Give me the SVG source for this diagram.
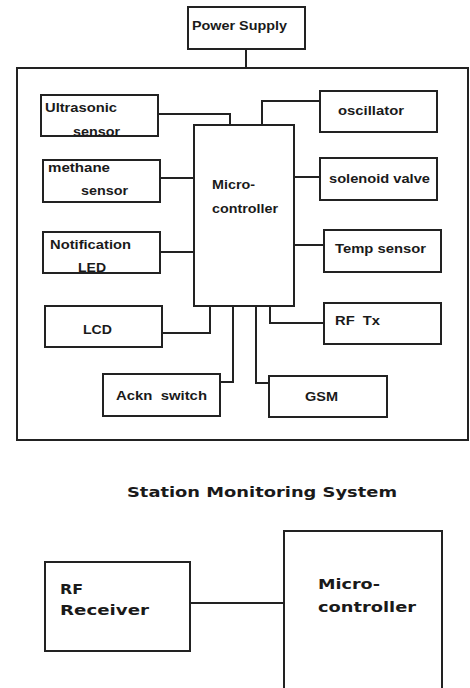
<svg xmlns="http://www.w3.org/2000/svg" width="470" height="688" viewBox="0 0 470 688">
<style>
.box{fill:#fff;stroke:#222;stroke-width:2}
.wire{fill:none;stroke:#222;stroke-width:2}
.t{font-family:"Liberation Sans",Arial,sans-serif;font-weight:bold;font-size:13px;fill:#1a1a1a}
.w{font-family:"DejaVu Sans","Liberation Sans",sans-serif;font-weight:bold;font-size:14px;fill:#1a1a1a}
</style>
<rect width="470" height="688" fill="#fff"/>
<g id="outer"><rect class="box" x="17" y="68" width="451" height="372"/></g>
<g id="connectors">
<path class="wire" d="M246 49V68"/>
<path class="wire" d="M158 114H230V125"/>
<path class="wire" d="M320 101H262V125"/>
<path class="wire" d="M160 178H194"/>
<path class="wire" d="M160 252H194"/>
<path class="wire" d="M294 177H320"/>
<path class="wire" d="M294 245H324"/>
<path class="wire" d="M270 306V323H324"/>
<path class="wire" d="M162 333H210V306"/>
<path class="wire" d="M220 382H233V306"/>
<path class="wire" d="M256 306V383H269"/>
<path class="wire" d="M190 603H284"/>
</g>
<g id="power"><rect class="box" x="188" y="7" width="117" height="42"/><text class="t" x="192" y="30" textLength="95" lengthAdjust="spacingAndGlyphs">Power Supply</text></g>
<g id="ultrasonic"><rect class="box" x="41" y="95" width="117" height="41"/><text class="t" x="45" y="112" textLength="72" lengthAdjust="spacingAndGlyphs">Ultrasonic</text><text class="t" x="73" y="136" textLength="47" lengthAdjust="spacingAndGlyphs">sensor</text></g>
<g id="oscillator"><rect class="box" x="320" y="91" width="117" height="41"/><text class="t" x="338" y="115" textLength="66" lengthAdjust="spacingAndGlyphs">oscillator</text></g>
<g id="mcu"><rect class="box" x="194" y="125" width="100" height="181"/><text class="t" x="212" y="189" textLength="43" lengthAdjust="spacingAndGlyphs">Micro-</text><text class="t" x="212" y="213" textLength="66" lengthAdjust="spacingAndGlyphs">controller</text></g>
<g id="methane"><rect class="box" x="43" y="160" width="117" height="42"/><text class="t" x="48" y="172" textLength="62" lengthAdjust="spacingAndGlyphs">methane</text><text class="t" x="81" y="195" textLength="47" lengthAdjust="spacingAndGlyphs">sensor</text></g>
<g id="solenoid"><rect class="box" x="320" y="158" width="117" height="42"/><text class="t" x="329" y="183" textLength="101" lengthAdjust="spacingAndGlyphs">solenoid valve</text></g>
<g id="notification"><rect class="box" x="43" y="232" width="117" height="41"/><text class="t" x="50" y="249" textLength="81" lengthAdjust="spacingAndGlyphs">Notification</text><text class="t" x="78" y="272" textLength="28" lengthAdjust="spacingAndGlyphs">LED</text></g>
<g id="temp"><rect class="box" x="324" y="230" width="117" height="42"/><text class="t" x="335" y="253" textLength="91" lengthAdjust="spacingAndGlyphs">Temp sensor</text></g>
<g id="rftx"><rect class="box" x="324" y="303" width="117" height="41"/><text class="t" x="335" y="325" textLength="45" lengthAdjust="spacingAndGlyphs" xml:space="preserve">RF  Tx</text></g>
<g id="lcd"><rect class="box" x="45" y="306" width="117" height="41"/><text class="t" x="83" y="334" textLength="29" lengthAdjust="spacingAndGlyphs">LCD</text></g>
<g id="ackn"><rect class="box" x="103" y="374" width="117" height="42"/><text class="t" x="116" y="400" textLength="91" lengthAdjust="spacingAndGlyphs" xml:space="preserve">Ackn  switch</text></g>
<g id="gsm"><rect class="box" x="269" y="376" width="118" height="41"/><text class="t" x="305" y="401" textLength="33" lengthAdjust="spacingAndGlyphs">GSM</text></g>
<g id="title"><text class="w" x="127" y="497" textLength="270" lengthAdjust="spacingAndGlyphs">Station Monitoring System</text></g>
<g id="rfrx"><rect class="box" x="45" y="562" width="145" height="89"/><text class="w" x="60" y="594" textLength="23" lengthAdjust="spacingAndGlyphs">RF</text><text class="w" x="60" y="615" textLength="89" lengthAdjust="spacingAndGlyphs">Receiver</text></g>
<g id="mcu2"><path class="box" d="M284 700V531H442V700"/><text class="w" x="318" y="589" textLength="62" lengthAdjust="spacingAndGlyphs">Micro-</text><text class="w" x="318" y="612" textLength="98" lengthAdjust="spacingAndGlyphs">controller</text></g>
</svg>
